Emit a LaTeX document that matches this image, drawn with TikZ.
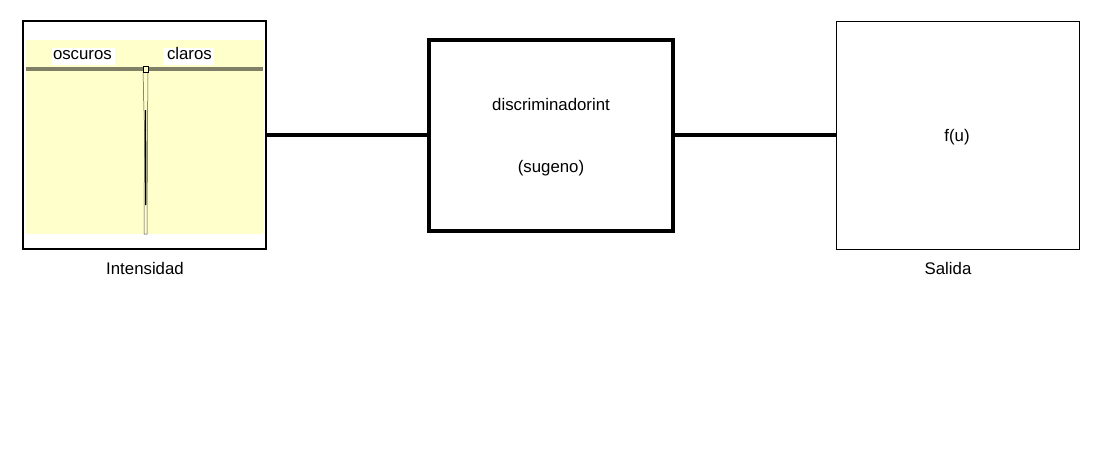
\documentclass[tikz,border=0pt]{standalone}
\usepackage{fontspec}
\setmainfont{Liberation Sans}
\begin{document}
\begin{tikzpicture}[x=1pt,y=-1pt,
  lbl/.style={inner sep=0pt,font=\fontsize{16.8}{19}\selectfont,text=black},
  wlbl/.style={lbl,fill=white,inner xsep=1pt,inner ysep=0pt,text height=12pt,text depth=5pt,align=left},
  conn/.style={line width=4pt}]
\useasboundingbox (0,0) rectangle (1119,458);
\definecolor{paleyel}{HTML}{FFFFCC}
\definecolor{bar}{HTML}{808066}
% left box
\node[draw=black,line width=2pt,minimum width=243pt,minimum height=228pt,inner sep=0pt] (inbox) at (144.5,135) {};
\fill[paleyel] (26,40) rectangle (263,234);
\draw[bar,line width=4pt] (26,69) -- (263,69);
\node[wlbl,text width=61pt] (osc) at (83.5,56) {oscuros};
\node[wlbl,text width=49pt,inner xsep=1pt] (cla) at (188.5,56) {\hspace*{3pt}claros};
\filldraw[fill=paleyel,draw=black!70,line width=0.5pt] (143,72) -- (148,72) -- (147.5,130) -- (147,234) -- (144,234) -- (144.5,130) -- cycle;
\draw[black,line width=1.3pt] (145.5,110) -- (145.8,205);
\filldraw[fill=paleyel,draw=black,line width=0.6pt] (143,66) rectangle (148,72);
\node[lbl] (intl) at (145,268) {Intensidad};
% middle box
\node[draw=black,line width=4pt,minimum width=244pt,minimum height=191pt,inner sep=0pt] (disc) at (551,135.5) {};
\node[lbl] (d1) at (551,104) {discriminadorint};
\node[lbl] (d2) at (551,168) {(sugeno)};
% right box
\node[draw=black,line width=1pt,minimum width=243pt,minimum height=228pt,inner sep=0pt] (out) at (957.5,135) {};
\node[lbl] (fu) at (957,137) {f(u)};
\node[lbl] (sal) at (948,268) {Salida};
% connectors
\draw[conn] (inbox.east |- 0,135) -- (disc.west |- 0,135);
\draw[conn] (disc.east |- 0,135) -- (out.west |- 0,135);
\end{tikzpicture}
\end{document}
